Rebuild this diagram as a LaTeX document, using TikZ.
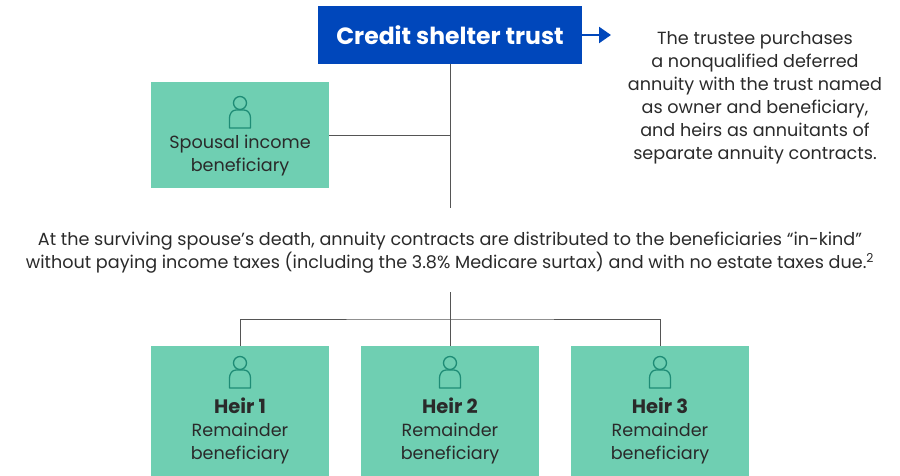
\documentclass[tikz,border=0pt]{standalone}
\usepackage{fontspec}
\setmainfont{Poppins}
\usetikzlibrary{arrows.meta}

\definecolor{trustblue}{HTML}{0047BB}
\definecolor{heirgreen}{HTML}{6FCFB2}
\definecolor{icongreen}{HTML}{1F8C76}
\definecolor{inkgray}{HTML}{2A2A2A}
\definecolor{linegray}{HTML}{555555}

\tikzset{
    trustbox/.style={fill=trustblue, text=white, minimum width=264pt, minimum height=58pt,
        font=\fontsize{23.5}{28}\selectfont\bfseries},
    benbox/.style={fill=heirgreen, minimum width=178pt, inner sep=0pt},
    plaintext/.style={text=inkgray, align=center, inner sep=0pt,
        font=\fontsize{17.6}{23}\selectfont},
    link/.style={draw=linegray, line width=0.9pt},
    person/.pic={
        \draw[icongreen, line width=1.3pt] (0,0) circle (6.5);
        \draw[icongreen, line width=1.3pt, line join=round]
            (-10.5,-25) -- (-10.5,-15) to[out=90,in=180] (-4,-7) -- (4,-7)
            to[out=0,in=90] (10.5,-15) -- (10.5,-25) -- cycle;
    }
}

\begin{document}
\begin{tikzpicture}[x=1pt, y=1pt]
    \useasboundingbox (0,0) rectangle (900,-476);

    % trust and the note on the purchase
    \node[trustbox] (trust) at (450,-35) {Credit shelter trust};
    \coordinate (tip) at (611,-35);
    \draw[trustblue, line width=2.4pt, -{Triangle[length=12pt, width=16pt]}] (trust.east) -- (tip);
    \node[plaintext] (note) at (755,-98) {The trustee purchases\\a nonqualified deferred\\annuity with the trust named\\as owner and beneficiary,\\and heirs as annuitants of\\separate annuity contracts.};

    % spouse
    \node[benbox, minimum height=106pt] (spouse) at (240,-135) {};
    \pic at (240,-103) {person};
    \node[plaintext] (spousetxt) at (240,-155.5) {Spousal income\\beneficiary};

    % trunk down to the note at death
    \coordinate (upend) at (450,-208);
    \coordinate (lowstart) at (450,-292);
    \draw[link] (trust.south) -- (upend);
    \draw[link] (spouse.east) -- (trust.south |- spouse.east);
    \node[plaintext] (death) at (450,-253) {At the surviving spouse’s death, annuity contracts are distributed to the beneficiaries “in-kind”\\without paying income taxes (including the 3.8\% Medicare surtax) and with no estate taxes due.\textsuperscript{2}};

    % heirs
    \foreach \i/\x in {1/240,2/450,3/660}{
        \node[benbox, minimum height=130pt] (heir\i) at (\x,-411) {};
        \pic at (\x,-363) {person};
        \node[plaintext] (heirtxt\i) at (\x,-431) {{\fontsize{19.5}{23}\selectfont\bfseries Heir \i}\\Remainder\\beneficiary};
    }
    \coordinate (bus) at (450,-319);
    \draw[link] (lowstart) -- (heir2.north);
    \draw[link] (heir1.north) |- (bus) -| (heir3.north);
\end{tikzpicture}
\end{document}
